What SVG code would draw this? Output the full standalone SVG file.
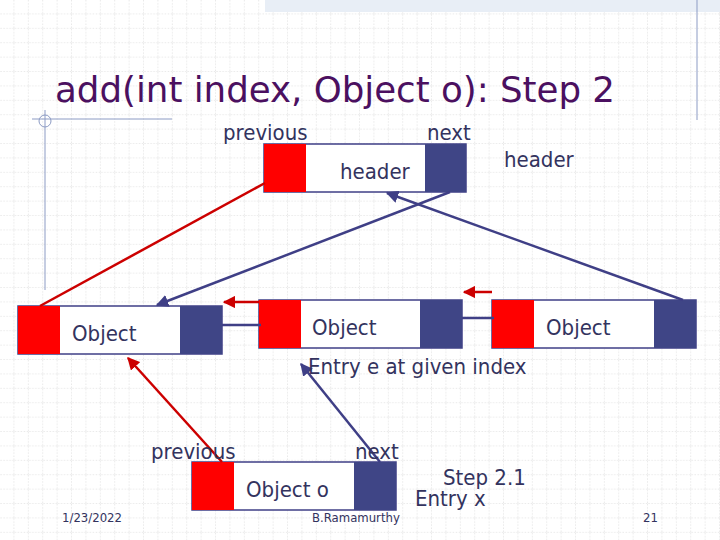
<svg xmlns="http://www.w3.org/2000/svg" width="720" height="540" viewBox="0 0 720 540">
<defs>
<pattern id="grid" width="14.4" height="14.4" patternUnits="userSpaceOnUse"><path d="M14.4 0V14.4H0" fill="none" stroke="#d4d4d4" stroke-width="1" stroke-dasharray="1.5 1.5"/></pattern>
<marker id="ab" viewBox="0 0 10 10" refX="9" refY="5" markerWidth="5" markerHeight="5" orient="auto"><path d="M0 0L10 5L0 10z" fill="#3f3f86"/></marker>
<marker id="ar" viewBox="0 0 10 10" refX="9" refY="5" markerWidth="5" markerHeight="5" orient="auto"><path d="M0 0L10 5L0 10z" fill="#cc0000"/></marker>
</defs>
<style>
.box{fill:#fff;stroke:#3f3f86;stroke-width:1.5}
.r{fill:#ff0000}.b{fill:#3f4586}
.t{font-family:"DejaVu Sans Condensed","DejaVu Sans",sans-serif;font-size:22px;fill:#33335e}
.s{font-family:"DejaVu Sans Condensed","DejaVu Sans",sans-serif;font-size:13px;fill:#33335e}
.lb{stroke:#3f3f86;stroke-width:2.5;fill:none}
.lr{stroke:#cc0000;stroke-width:2.5;fill:none}
</style>
<rect width="720" height="540" fill="#fff"/>
<rect width="720" height="540" fill="url(#grid)"/>
<rect x="265" y="0" width="455" height="12" fill="#e8eef6"/>
<line x1="697" y1="0" x2="697" y2="120" stroke="#8c9bc4" stroke-width="1"/>
<line x1="45" y1="110" x2="45" y2="290" stroke="#8c9bc4" stroke-width="1"/>
<line x1="32" y1="119" x2="172" y2="119" stroke="#8c9bc4" stroke-width="1"/>
<circle cx="45" cy="121" r="6" fill="none" stroke="#8c9bc4"/>
<text x="55" y="102" font-family="DejaVu Sans Condensed,DejaVu Sans,sans-serif" font-size="36" fill="#4b1060" textLength="560" lengthAdjust="spacingAndGlyphs">add(int index, Object o): Step 2</text>

<g id="header"><rect class="box" x="264" y="144" width="202" height="48"/><rect class="r" x="264" y="144" width="42" height="48"/><rect class="b" x="425" y="144" width="41" height="48"/><text class="t" x="340" y="179">header</text></g>
<g id="nodeA"><rect class="box" x="18" y="306" width="204" height="48"/><rect class="r" x="18" y="306" width="42" height="48"/><rect class="b" x="180" y="306" width="42" height="48"/><text class="t" x="72" y="341">Object</text></g>
<g id="nodeB"><rect class="box" x="259" y="300" width="203" height="48"/><rect class="r" x="259" y="300" width="42" height="48"/><rect class="b" x="420" y="300" width="42" height="48"/><text class="t" x="312" y="335">Object</text></g>
<g id="nodeC"><rect class="box" x="492" y="300" width="204" height="48"/><rect class="r" x="492" y="300" width="42" height="48"/><rect class="b" x="654" y="300" width="42" height="48"/><text class="t" x="546" y="335">Object</text></g>
<g id="nodeX"><rect class="box" x="192" y="462" width="204" height="48"/><rect class="r" x="192" y="462" width="42" height="48"/><rect class="b" x="354" y="462" width="42" height="48"/><text class="t" x="246" y="497">Object o</text></g>

<g id="connectors">
<line class="lr" x1="265" y1="183" x2="40" y2="306"/>
<line class="lb" x1="450" y1="192" x2="157" y2="305" marker-end="url(#ab)"/>
<line class="lb" x1="683" y1="300" x2="387" y2="193" marker-end="url(#ab)"/>
<line class="lr" x1="259" y1="302" x2="224" y2="302" marker-end="url(#ar)"/>
<line class="lb" x1="222" y1="325" x2="261" y2="325"/>
<line class="lr" x1="492" y1="292" x2="464" y2="292" marker-end="url(#ar)"/>
<line class="lb" x1="462" y1="318" x2="494" y2="318"/>
<line class="lr" x1="222" y1="462" x2="128" y2="358" marker-end="url(#ar)"/>
<line class="lb" x1="380" y1="462" x2="301" y2="364" marker-end="url(#ab)"/>
</g>

<text class="t" x="223" y="140">previous</text>
<text class="t" x="427" y="140">next</text>
<text class="t" x="504" y="167">header</text>
<text class="t" x="308" y="374">Entry e at given index</text>
<text class="t" x="151" y="459">previous</text>
<text class="t" x="355" y="459">next</text>
<text class="t" x="443" y="485">Step 2.1</text>
<text class="t" x="415" y="506">Entry x</text>
<text class="s" x="62" y="522">1/23/2022</text>
<text class="s" x="312" y="522">B.Ramamurthy</text>
<text class="s" x="643" y="522">21</text>
</svg>
